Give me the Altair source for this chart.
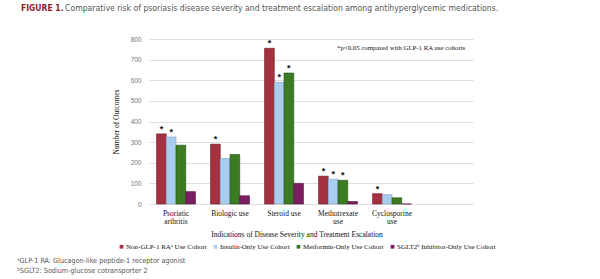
import altair as alt
import pandas as pd

# Outcome counts per indication and cohort
indications = ["Psoriatic|arthritis", "Biologic use", "Steroid use", "Methotrexate|use", "Cyclosporine|use"]
# an empty trailing slot keeps the gridlines running past the last group
x_domain = indications + [" "]
cohorts = [
    "Non-GLP-1 RA\u1d43 Use Cohort",
    "Insulin-Only Use Cohort",
    "Metformin-Only Use Cohort",
    "SGLT2\u1d47 Inhibitor-Only Use Cohort",
]
colors = ["#a3313f", "#a9cdf0", "#3b7b22", "#7d1d62"]
edge_colors = ["#6e1a25", "#7f9fc4", "#234d14", "#4e0f3c"]
non_glp1 = [340, 290, 755, 135, 50]
insulin = [325, 220, 590, 120, 45]
metformin = [285, 240, 635, 115, 30]
sglt2 = [60, 40, 100, 12, 0]
# significance flags (p<0.05 vs GLP-1 RA cohorts)
sig_non_glp1 = [True, True, True, True, True]
sig_insulin = [True, False, True, True, False]
sig_metformin = [False, False, True, True, False]
sig_sglt2 = [False, False, False, False, False]
y_ticks = [0, 100, 200, 300, 400, 500, 600, 700, 800]

rows = []
for series, vals, sigs in zip(cohorts, [non_glp1, insulin, metformin, sglt2],
                              [sig_non_glp1, sig_insulin, sig_metformin, sig_sglt2]):
    for ind, v, s in zip(indications, vals, sigs):
        rows.append({"indication": ind, "cohort": series, "value": v, "sig": s})
df = pd.DataFrame(rows)

W, H = 324, 165
serif = "Liberation Serif"
narrow = "DejaVu Sans Condensed, Liberation Sans, sans-serif"
y_scale = alt.Scale(domain=[0, 800], nice=False)
y_axis = alt.Axis(values=y_ticks, title="Number of Outcomes", grid=True,
                  gridColor="#dedede", gridWidth=1,
                  domain=False, ticks=False, labelFont="Liberation Sans",
                  labelFontSize=6.5, labelColor="#777", labelPadding=8,
                  labelOverlap=False,
                  titleFont=serif, titleFontSize=7.5, titleFontWeight="normal",
                  titleColor="#111", titlePadding=10)

x_enc = alt.X("indication:N", sort=x_domain,
              scale=alt.Scale(domain=x_domain, paddingInner=0.28, paddingOuter=0.14),
              axis=alt.Axis(title=None, labelAngle=0, domain=False, ticks=False, grid=False,
                            labelFont=serif, labelFontSize=7.5, labelColor="#111",
                            labelPadding=5, labelLineHeight=8,
                            labelExpr="split(datum.label, '|')"))
xoff = alt.XOffset("cohort:N", sort=cohorts, scale=alt.Scale(domain=cohorts, paddingInner=0))

bars = alt.Chart(df).mark_bar(strokeWidth=0.6).encode(
    x=x_enc, y=alt.Y("value:Q", scale=y_scale, axis=y_axis, title="Number of Outcomes"),
    xOffset=xoff,
    color=alt.Color("cohort:N", sort=cohorts,
                    scale=alt.Scale(domain=cohorts, range=colors),
                    legend=alt.Legend(title=None, orient="none", direction="horizontal",
                                      legendX=-31, legendY=204, symbolType="square",
                                      symbolSize=14, symbolStrokeWidth=0,
                                      labelFont=serif, labelFontSize=7, labelColor="#111",
                                      columnPadding=5, symbolOffset=0, labelOffset=1)),
    stroke=alt.Stroke("cohort:N", sort=cohorts,
                      scale=alt.Scale(domain=cohorts, range=edge_colors),
                      legend=None))

stars = alt.Chart(df).transform_filter("datum.sig").mark_text(
    text="*", font="Liberation Sans", fontSize=9, fontWeight="bold", dy=-5, color="#111").encode(
    x=x_enc, xOffset=xoff,
    y=alt.Y("value:Q", scale=y_scale, axis=y_axis, title="Number of Outcomes"))


def label(txt, x, y, **kw):
    return alt.Chart(pd.DataFrame({"t": [txt]})).mark_text(baseline="middle", **kw).encode(
        text="t:N", x=alt.value(x), y=alt.value(y))


title_a = label("FIGURE 1.", -128, -31, align="left", font=narrow, fontSize=8.5,
                fontWeight="bold", color="#8e1b2e")
title_b = label("Comparative risk of psoriasis disease severity and treatment escalation among "
                "antihyperglycemic medications.", -84, -31, align="left", font=narrow,
                fontSize=8.6, color="#555")
note = label("*p<0.05 compared with GLP-1 RA use cohorts", 188, 9, align="left",
             font=serif, fontSize=6.8, color="#111")
x_title = label("Indications of Disease Severity and Treatment Escalation", 148, 196,
                align="center", font=serif, fontSize=7.5, color="#111")
foot_a = label("\u1d43GLP-1 RA: Glucagon-like peptide-1 receptor agonist", -132, 222,
               align="left", font=narrow, fontSize=7.2, color="#555")
foot_b = label("\u1d47SGLT2: Sodium-glucose cotransporter 2", -132, 232,
               align="left", font=narrow, fontSize=7.2, color="#555")

chart = alt.layer(bars, stars, title_a, title_b, note, x_title, foot_a, foot_b).properties(
    width=W, height=H,
    view=alt.ViewBackground(stroke="transparent", strokeWidth=0),
    autosize=alt.AutoSizeParams(type="none"),
    padding={"left": 149, "top": 39, "right": 127, "bottom": 75},
).configure_view(stroke="transparent", strokeWidth=0).configure_axis(
    domain=False).configure(background="white")

chart.save("out.html", embed_options={"renderer": "svg", "actions": False})
